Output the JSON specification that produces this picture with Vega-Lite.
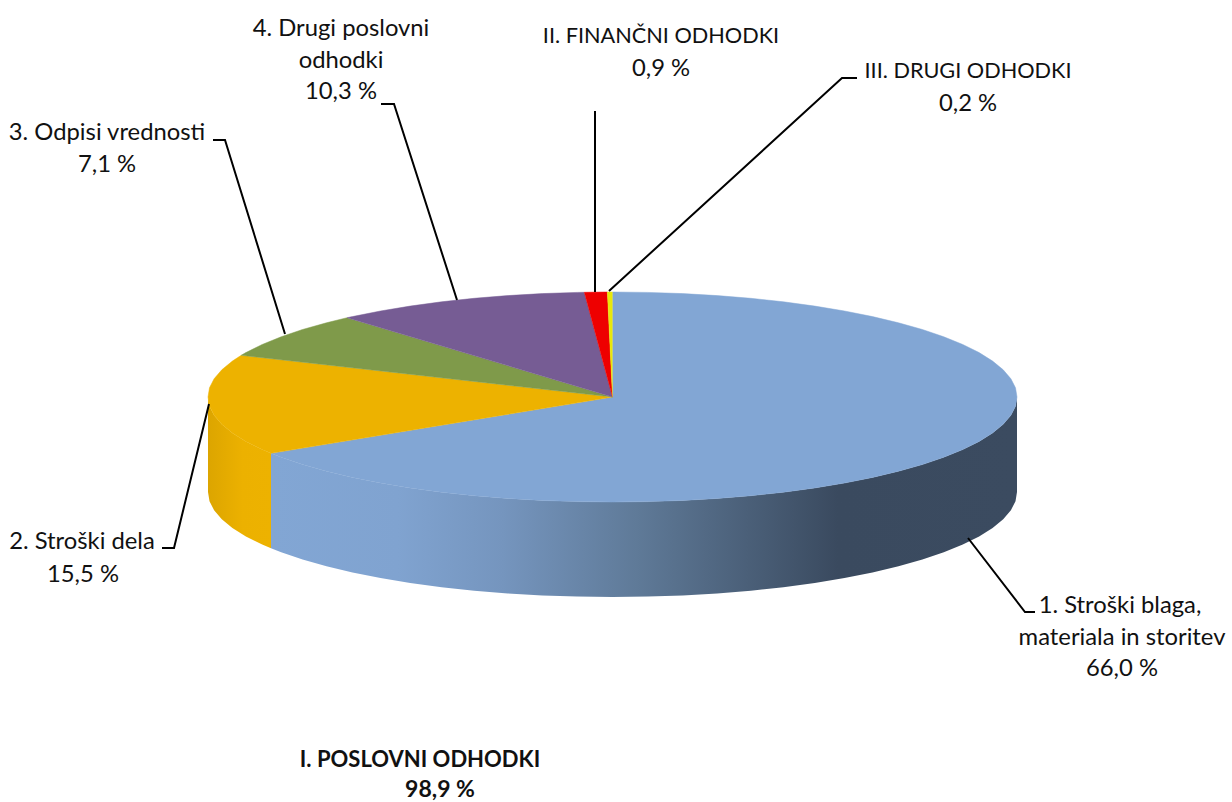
{"$schema":"https://vega.github.io/schema/vega-lite/v6.json","width":1232,"height":802,"padding":0,"autosize":{"type":"none"},"background":"white","config":{"view":{"stroke":null}},
"datasets":{
"wallBlue":[{"x":1017,"y":397,"b":492},{"x":1015.5,"y":406.2,"b":501.2},{"x":1010.9,"y":415.2,"b":510.2},{"x":1003.2,"y":424.2,"b":519.2},{"x":992.6,"y":432.9,"b":527.9},{"x":979.1,"y":441.4,"b":536.4},{"x":962.8,"y":449.5,"b":544.5},{"x":943.8,"y":457.2,"b":552.2},{"x":922.4,"y":464.5,"b":559.5},{"x":898.5,"y":471.2,"b":566.2},{"x":872.5,"y":477.4,"b":572.4},{"x":844.5,"y":483,"b":578},{"x":814.8,"y":487.9,"b":582.9},{"x":783.4,"y":492.2,"b":587.2},{"x":750.8,"y":495.7,"b":590.7},{"x":717.2,"y":498.4,"b":593.4},{"x":682.7,"y":500.4,"b":595.4},{"x":647.8,"y":501.6,"b":596.6},{"x":612.5,"y":502,"b":597},{"x":577.2,"y":501.6,"b":596.6},{"x":542.3,"y":500.4,"b":595.4},{"x":507.8,"y":498.4,"b":593.4},{"x":474.2,"y":495.7,"b":590.7},{"x":441.6,"y":492.2,"b":587.2},{"x":410.2,"y":487.9,"b":582.9},{"x":380.5,"y":483,"b":578},{"x":352.5,"y":477.4,"b":572.4},{"x":326.5,"y":471.2,"b":566.2},{"x":302.6,"y":464.5,"b":559.5},{"x":281.2,"y":457.2,"b":552.2},{"x":271,"y":453.3,"b":548.3}],
"wallOrange":[{"x":271,"y":453.3,"b":548.3},{"x":262.2,"y":449.5,"b":544.5},{"x":245.9,"y":441.4,"b":536.4},{"x":232.4,"y":432.9,"b":527.9},{"x":221.8,"y":424.2,"b":519.2},{"x":214.1,"y":415.2,"b":510.2},{"x":209.5,"y":406.2,"b":501.2},{"x":208,"y":397,"b":492}],
"top":[
{"s":"1","i":0,"x":612.5,"y":397},{"s":"1","i":1,"x":612.5,"y":292},{"s":"1","i":2,"x":647.8,"y":292.4},{"s":"1","i":3,"x":682.7,"y":293.6},{"s":"1","i":4,"x":717.2,"y":295.6},{"s":"1","i":5,"x":750.8,"y":298.3},{"s":"1","i":6,"x":783.4,"y":301.8},{"s":"1","i":7,"x":814.8,"y":306.1},{"s":"1","i":8,"x":844.5,"y":311},{"s":"1","i":9,"x":872.5,"y":316.6},{"s":"1","i":10,"x":898.5,"y":322.8},{"s":"1","i":11,"x":922.4,"y":329.5},{"s":"1","i":12,"x":943.8,"y":336.8},{"s":"1","i":13,"x":962.8,"y":344.5},{"s":"1","i":14,"x":979.1,"y":352.6},{"s":"1","i":15,"x":992.6,"y":361.1},{"s":"1","i":16,"x":1003.2,"y":369.8},{"s":"1","i":17,"x":1010.9,"y":378.8},{"s":"1","i":18,"x":1015.5,"y":387.8},{"s":"1","i":19,"x":1017,"y":397},{"s":"1","i":20,"x":1015.5,"y":406.2},{"s":"1","i":21,"x":1010.9,"y":415.2},{"s":"1","i":22,"x":1003.2,"y":424.2},{"s":"1","i":23,"x":992.6,"y":432.9},{"s":"1","i":24,"x":979.1,"y":441.4},{"s":"1","i":25,"x":962.8,"y":449.5},{"s":"1","i":26,"x":943.8,"y":457.2},{"s":"1","i":27,"x":922.4,"y":464.5},{"s":"1","i":28,"x":898.5,"y":471.2},{"s":"1","i":29,"x":872.5,"y":477.4},{"s":"1","i":30,"x":844.5,"y":483},{"s":"1","i":31,"x":814.8,"y":487.9},{"s":"1","i":32,"x":783.4,"y":492.2},{"s":"1","i":33,"x":750.8,"y":495.7},{"s":"1","i":34,"x":717.2,"y":498.4},{"s":"1","i":35,"x":682.7,"y":500.4},{"s":"1","i":36,"x":647.8,"y":501.6},{"s":"1","i":37,"x":612.5,"y":502},{"s":"1","i":38,"x":577.2,"y":501.6},{"s":"1","i":39,"x":542.3,"y":500.4},{"s":"1","i":40,"x":507.8,"y":498.4},{"s":"1","i":41,"x":474.2,"y":495.7},{"s":"1","i":42,"x":441.6,"y":492.2},{"s":"1","i":43,"x":410.2,"y":487.9},{"s":"1","i":44,"x":380.5,"y":483},{"s":"1","i":45,"x":352.5,"y":477.4},{"s":"1","i":46,"x":326.5,"y":471.2},{"s":"1","i":47,"x":302.6,"y":464.5},{"s":"1","i":48,"x":281.2,"y":457.2},{"s":"1","i":49,"x":271,"y":453.3},
{"s":"2","i":0,"x":612.5,"y":397},{"s":"2","i":1,"x":271,"y":453.3},{"s":"2","i":2,"x":262.2,"y":449.5},{"s":"2","i":3,"x":245.9,"y":441.4},{"s":"2","i":4,"x":232.4,"y":432.9},{"s":"2","i":5,"x":221.8,"y":424.2},{"s":"2","i":6,"x":214.1,"y":415.2},{"s":"2","i":7,"x":209.5,"y":406.2},{"s":"2","i":8,"x":208,"y":397},{"s":"2","i":9,"x":209.5,"y":387.8},{"s":"2","i":10,"x":214.1,"y":378.8},{"s":"2","i":11,"x":221.8,"y":369.8},{"s":"2","i":12,"x":232.4,"y":361.1},{"s":"2","i":13,"x":241.2,"y":355.3},
{"s":"3","i":0,"x":612.5,"y":397},{"s":"3","i":1,"x":241.2,"y":355.3},{"s":"3","i":2,"x":245.9,"y":352.6},{"s":"3","i":3,"x":262.2,"y":344.5},{"s":"3","i":4,"x":281.2,"y":336.8},{"s":"3","i":5,"x":302.6,"y":329.5},{"s":"3","i":6,"x":326.5,"y":322.8},{"s":"3","i":7,"x":347.1,"y":317.7},
{"s":"4","i":0,"x":612.5,"y":397},{"s":"4","i":1,"x":347.1,"y":317.7},{"s":"4","i":2,"x":352.5,"y":316.6},{"s":"4","i":3,"x":380.5,"y":311},{"s":"4","i":4,"x":410.2,"y":306.1},{"s":"4","i":5,"x":441.6,"y":301.8},{"s":"4","i":6,"x":474.2,"y":298.3},{"s":"4","i":7,"x":507.8,"y":295.6},{"s":"4","i":8,"x":542.3,"y":293.6},{"s":"4","i":9,"x":577.2,"y":292.4},{"s":"4","i":10,"x":584.3,"y":292.3},
{"s":"II","i":0,"x":612.5,"y":397},{"s":"II","i":1,"x":584.3,"y":292.3},{"s":"II","i":2,"x":607.4,"y":292},
{"s":"III","i":0,"x":612.5,"y":397},{"s":"III","i":1,"x":607.4,"y":292},{"s":"III","i":2,"x":612.5,"y":292}],
"leaders":[
{"s":"1","i":0,"x":968,"y":538},{"s":"1","i":1,"x":1025,"y":612},{"s":"1","i":2,"x":1035,"y":612},
{"s":"2","i":0,"x":209,"y":404},{"s":"2","i":1,"x":174,"y":548},{"s":"2","i":2,"x":162,"y":548},
{"s":"3","i":0,"x":285,"y":334},{"s":"3","i":1,"x":225,"y":140},{"s":"3","i":2,"x":213,"y":140},
{"s":"4","i":0,"x":457,"y":300},{"s":"4","i":1,"x":394,"y":104},{"s":"4","i":2,"x":381,"y":104},
{"s":"II","i":0,"x":595,"y":292},{"s":"II","i":1,"x":595,"y":111},
{"s":"III","i":0,"x":609,"y":291},{"s":"III","i":1,"x":842,"y":78},{"s":"III","i":2,"x":857,"y":78}],
"labels":[
{"t":"1. Stroški blaga,","x":1120,"y":606},{"t":"materiala in storitev","x":1122,"y":638},{"t":"66,0 %","x":1122,"y":669},
{"t":"2. Stroški dela","x":82,"y":542},{"t":"15,5 %","x":83,"y":575},
{"t":"3. Odpisi vrednosti","x":107,"y":133},{"t":"7,1 %","x":107,"y":165},
{"t":"4. Drugi poslovni","x":341,"y":29},{"t":"odhodki","x":341,"y":61},{"t":"10,3 %","x":341,"y":92},
{"t":"0,9 %","x":661,"y":69},{"t":"0,2 %","x":968,"y":104}],
"capsLabels":[{"t":"II. FINANČNI ODHODKI","x":661,"y":36},{"t":"III. DRUGI ODHODKI","x":968,"y":71}],
"boldLabels":[{"t":"I. POSLOVNI ODHODKI","x":420,"y":760}],
"boldNumber":[{"t":"98,9 %","x":440,"y":790}]
},
"layer":[
{"data":{"name":"wallBlue"},"mark":{"type":"area","interpolate":"linear","fill":{"gradient":"linear","x1":0,"y1":0,"x2":1,"y2":0,"stops":[{"offset":0,"color":"#82a6d4"},{"offset":0.17,"color":"#80a3d0"},{"offset":0.31,"color":"#7595be"},{"offset":0.49,"color":"#5f7a98"},{"offset":0.76,"color":"#3a4a5f"},{"offset":1,"color":"#3b4b60"}]}},
"encoding":{"x":{"field":"x","type":"quantitative","scale":{"domain":[0,1232],"nice":false,"zero":false},"axis":null},"y":{"field":"y","type":"quantitative","scale":{"domain":[802,0],"nice":false,"zero":false},"axis":null},"y2":{"field":"b"}}},
{"data":{"name":"wallOrange"},"mark":{"type":"area","interpolate":"linear","fill":{"gradient":"linear","x1":0,"y1":0,"x2":1,"y2":0,"stops":[{"offset":0,"color":"#dca500"},{"offset":0.55,"color":"#ecb100"},{"offset":1,"color":"#edb200"}]}},
"encoding":{"x":{"field":"x","type":"quantitative","scale":{"domain":[0,1232],"nice":false,"zero":false},"axis":null},"y":{"field":"y","type":"quantitative","scale":{"domain":[802,0],"nice":false,"zero":false},"axis":null},"y2":{"field":"b"}}},
{"data":{"name":"top"},"mark":{"type":"line","filled":true,"strokeWidth":0.5,"interpolate":"linear"},
"encoding":{"x":{"field":"x","type":"quantitative","scale":{"domain":[0,1232],"nice":false,"zero":false},"axis":null},"y":{"field":"y","type":"quantitative","scale":{"domain":[802,0],"nice":false,"zero":false},"axis":null},"order":{"field":"i","type":"quantitative"},"detail":{"field":"s"},
"fill":{"field":"s","type":"nominal","legend":null,"scale":{"domain":["1","2","3","4","II","III"],"range":["#82a6d4","#edb200","#7f9a4a","#765c94","#ee0000","#e8e80a"]}},
"stroke":{"field":"s","type":"nominal","legend":null,"scale":{"domain":["1","2","3","4","II","III"],"range":["#82a6d4","#edb200","#7f9a4a","#765c94","#ee0000","#e8e80a"]}}}},
{"data":{"name":"leaders"},"mark":{"type":"line","color":"black","strokeWidth":2,"interpolate":"linear"},
"encoding":{"x":{"field":"x","type":"quantitative","scale":{"domain":[0,1232],"nice":false,"zero":false},"axis":null},"y":{"field":"y","type":"quantitative","scale":{"domain":[802,0],"nice":false,"zero":false},"axis":null},"order":{"field":"i","type":"quantitative"},"detail":{"field":"s"}}},
{"data":{"name":"labels"},"mark":{"type":"text","font":"Lato","fontSize":23.8,"color":"#111111","align":"center","baseline":"middle"},
"encoding":{"x":{"field":"x","type":"quantitative","scale":{"domain":[0,1232],"nice":false,"zero":false},"axis":null},"y":{"field":"y","type":"quantitative","scale":{"domain":[802,0],"nice":false,"zero":false},"axis":null},"text":{"field":"t"}}},
{"data":{"name":"capsLabels"},"mark":{"type":"text","font":"Lato","fontSize":21.7,"color":"#111111","align":"center","baseline":"middle"},
"encoding":{"x":{"field":"x","type":"quantitative","scale":{"domain":[0,1232],"nice":false,"zero":false},"axis":null},"y":{"field":"y","type":"quantitative","scale":{"domain":[802,0],"nice":false,"zero":false},"axis":null},"text":{"field":"t"}}},
{"data":{"name":"boldLabels"},"mark":{"type":"text","font":"Lato","fontSize":22,"fontWeight":"bold","color":"#111111","align":"center","baseline":"middle"},
"encoding":{"x":{"field":"x","type":"quantitative","scale":{"domain":[0,1232],"nice":false,"zero":false},"axis":null},"y":{"field":"y","type":"quantitative","scale":{"domain":[802,0],"nice":false,"zero":false},"axis":null},"text":{"field":"t"}}},
{"data":{"name":"boldNumber"},"mark":{"type":"text","font":"Lato","fontSize":23,"fontWeight":"bold","color":"#111111","align":"center","baseline":"middle"},
"encoding":{"x":{"field":"x","type":"quantitative","scale":{"domain":[0,1232],"nice":false,"zero":false},"axis":null},"y":{"field":"y","type":"quantitative","scale":{"domain":[802,0],"nice":false,"zero":false},"axis":null},"text":{"field":"t"}}}
]}
